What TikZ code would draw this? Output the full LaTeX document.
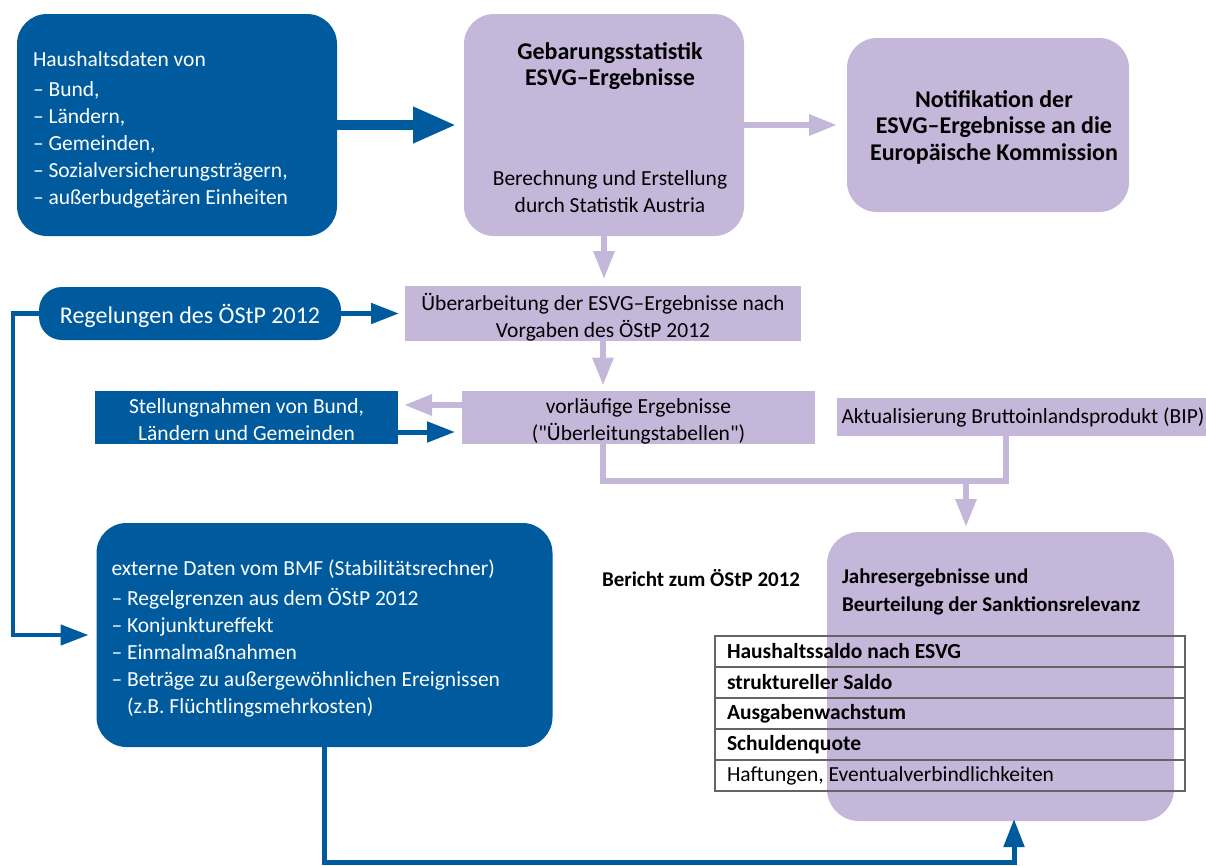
\documentclass[tikz,border=0pt]{standalone}
\usepackage{fontspec}
\setmainfont{Carlito}[Ligatures=TeXOff]
\usetikzlibrary{arrows.meta,positioning}
\definecolor{bmfblue}{RGB}{0,91,158}
\definecolor{lilac}{RGB}{197,183,217}
\definecolor{tabgray}{RGB}{100,100,100}
\newcommand{\topgap}[1]{\rule{0pt}{#1}}

\begin{document}
\begin{tikzpicture}[x=1pt,y=-1pt,
  every node/.style={font=\fontsize{21.5}{27}\selectfont,inner sep=0pt,outer sep=0pt,
    execute at begin node={\spaceskip=0pt\xspaceskip=0pt}},
  bluebox/.style={fill=bmfblue,text=white},
  lilabox/.style={fill=lilac,text=black},
  roundbox/.style={rounded corners=30pt},
  offcenter/.style={execute at begin node={\leftskip=12pt plus 1fil\rightskip=0pt plus 1fil\parfillskip=0pt}},
  bigbold/.style={font=\bfseries\fontsize{24}{26.5}\selectfont},
  tabrow/.style={draw=tabgray,line width=2pt,minimum width=470pt,minimum height=31pt,text width=446pt,align=left},
  bluearrow/.style={draw=bmfblue,line width=5pt,-{Triangle[length=28pt,width=20pt]}},
  lilaarrow/.style={draw=lilac,line width=6pt,-{Triangle[length=28pt,width=20pt]}},
  lilaline/.style={draw=lilac,line width=6pt}]
\useasboundingbox (0,0) rectangle (1206,865);

% top row
\node[bluebox,roundbox,minimum width=320pt,minimum height=222pt,text width=288pt,align=left] (haus) at (177,125)
  {\topgap{24pt}Haushaltsdaten von\\[3pt]– Bund,\\– Ländern,\\– Gemeinden,\\– Sozialversicherungsträgern,\\– außerbudgetären Einheiten};
\node[lilabox,roundbox,offcenter,minimum width=280pt,minimum height=222pt,text width=260pt,align=center,font=\fontsize{21.5}{26.5}\selectfont] (stat) at (604,125)
  {\topgap{21.5pt}{\bfseries\fontsize{24}{26.5}\selectfont Gebarungsstatistik}\\{\bfseries\fontsize{24}{26.5}\selectfont ESVG–Ergebnisse}\\[73.5pt]Berechnung und Erstellung\\durch Statistik Austria};
\node[lilabox,roundbox,bigbold,offcenter,minimum width=282pt,minimum height=174pt,text width=266pt,align=center] (notif) at (988,125)
  {\topgap{21.5pt}Notifikation der\\ESVG–Ergebnisse an die\\Europäische Kommission};

% middle
\node[bluebox,rounded corners=23pt,minimum width=302pt,minimum height=53pt,font=\fontsize{24}{30}\selectfont] (regel) at (190,313.5) {\topgap{24.5pt}Regelungen des ÖStP 2012};
\node[lilabox,minimum width=396pt,minimum height=53pt,align=center] (ueber) at (603,313.5)
  {\topgap{24pt}Überarbeitung der ESVG–Ergebnisse nach\\Vorgaben des ÖStP 2012};
\node[lilabox,minimum width=353pt,minimum height=53pt,align=center] (vorl) at (638.5,417.5)
  {\topgap{23pt}vorläufige Ergebnisse\\("Überleitungstabellen")};
\node[bluebox,minimum width=303pt,minimum height=53pt,align=center] (stell) at (246.5,417.5)
  {\topgap{19.5pt}Stellungnahmen von Bund,\\Ländern und Gemeinden};
\node[lilabox,minimum width=372pt,minimum height=38pt] (aktual) at (1023,417) {Aktualisierung Bruttoinlandsprodukt (BIP)};

% bottom
\node[bluebox,roundbox,minimum width=456pt,minimum height=224pt,text width=426pt,align=left] (ext) at (324.5,635)
  {\topgap{22pt}externe Daten vom BMF (Stabilitätsrechner)\\[3pt]– Regelgrenzen aus dem ÖStP 2012\\– Konjunktureffekt\\– Einmalmaßnahmen\\– Beträge zu außergewöhnlichen Ereignissen\\\hphantom{– }(z.B. Flüchtlingsmehrkosten)};
\node[lilabox,rounded corners=32pt,minimum width=347pt,minimum height=289pt] (jahr) at (1000.5,676.5) {};
\node[anchor=west,align=left,font=\bfseries\fontsize{21}{28}\selectfont] (jahrtext) at (842,592)
  {Jahresergebnisse und\\Beurteilung der Sanktionsrelevanz};
\node[anchor=west,font=\bfseries\fontsize{21}{27}\selectfont] (bericht) at (602,578) {Bericht zum ÖStP 2012};

\node[tabrow] (saldo) at (950,651.5) {\textbf{Haushaltssaldo nach ESVG}};
\node[tabrow,below=0pt of saldo] (struk) {\textbf{struktureller Saldo}};
\node[tabrow,below=0pt of struk] (ausg) {\textbf{Ausgabenwachstum}};
\node[tabrow,below=0pt of ausg] (schuld) {\textbf{Schuldenquote}};
\node[tabrow,below=0pt of schuld] (haft) {Haftungen, Eventualverbindlichkeiten};

% connectors
\coordinate (join) at (966,481);
\coordinate (bipfoot) at (1006,481);
\draw[draw=bmfblue,line width=10pt,-{Triangle[length=43pt,width=34pt]},shorten >=8pt] (haus) -- (stat);
\draw[lilaarrow,shorten >=10pt] (stat) -- (notif);
\draw[lilaarrow,shorten >=7pt] (stat.south) -- (stat.south |- ueber.north);
\draw[lilaarrow,shorten >=5pt] (ueber.south) -- (ueber.south |- vorl.north);
\draw[bluearrow,shorten >=6pt] (regel) -- (ueber);
\draw[bluearrow,line width=4.5pt,shorten >=8pt] (regel.west) -- ++(-26,0) |- (ext.west);
\draw[lilaarrow,shorten >=6pt] ([yshift=12.5pt]vorl.west) -- ([yshift=12.5pt]stell.east);
\draw[bluearrow,shorten >=7pt] ([yshift=-14.5pt]stell.east) -- ([yshift=-14.5pt]vorl.west);
\draw[lilaline] (vorl.south -| ueber.south) |- (bipfoot) -- (bipfoot |- aktual.south);
\draw[lilaarrow,shorten >=5pt] (join) -- (join |- jahr.north);
\draw[bluearrow,shorten >=-2pt] (ext.south) -- ++(0,115) -| ([xshift=13.5pt]jahr.south);
\end{tikzpicture}
\end{document}
